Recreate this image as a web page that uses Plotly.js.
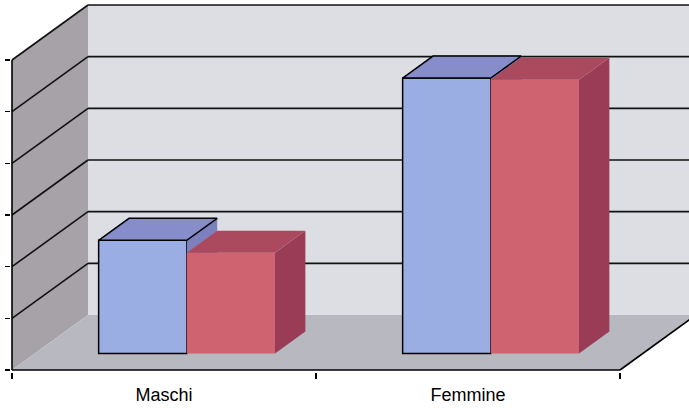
<!DOCTYPE html>
<html>
<head>
<meta charset="utf-8">
<script src="https://cdn.plot.ly/plotly-3.0.1.min.js"></script>
<style>html,body{margin:0;padding:0;background:#fff}#chart{width:689px;height:408px}</style>
</head>
<body>
<div id="chart"></div>
<script>
// ---- data ----
const categories = ['Maschi', 'Femmine'];
const seriesBlue = [2.19, 5.33];
const seriesRed = [1.95, 5.30];
const yTicks = [0, 1, 2, 3, 4, 5, 6];

// ---- pseudo-3D geometry (in axis units) ----
const PX_X = 304, PX_Y = 310 / 6;
const DX = 76 / PX_X, DY = 55 / PX_Y;     // full depth offset of the walls
const D0 = 0.3, DD = 0.4;                  // bar front depth, bar thickness
const W = 0.29;                            // bar width
const yMax = 6;
const xr = [-0.5 - 1 / PX_X, -0.5 - 1 / PX_X + 678 / PX_X];
const yr = [-2 / PX_Y, 367 / PX_Y];

function faces(vals, off, topColor, sideColor, outline, xa, ya) {
  const tr = [];
  vals.forEach((v, i) => {
    const x0 = i + off + D0 * DX, x1 = x0 + W;
    const yb = D0 * DY, yt = yb + v;
    const ddx = DD * DX, ddy = DD * DY;
    tr.push({type: 'scatter', xaxis: xa, yaxis: ya, mode: 'lines', fill: 'toself',
      x: [x1, x1, x1 + ddx, x1 + ddx, x1], y: [yb, yt, yt + ddy, yb + ddy, yb],
      fillcolor: sideColor, line: {width: 0, color: sideColor}, hoverinfo: 'skip', showlegend: false});
    tr.push({type: 'scatter', xaxis: xa, yaxis: ya, mode: 'lines', fill: 'toself',
      x: [x0, x1, x1 + ddx, x0 + ddx, x0], y: [yt, yt, yt + ddy, yt + ddy, yt],
      fillcolor: topColor, line: outline ? {width: 1.5, color: '#000'} : {width: 0, color: topColor},
      hoverinfo: 'skip', showlegend: false});
  });
  return tr;
}

const blueBar = {type: 'bar', x: [0, 1], y: seriesBlue, base: D0 * DY, offset: -W + D0 * DX, width: W,
  marker: {color: '#9aaee3', line: {color: '#000', width: 1.5}}, showlegend: false, xaxis: 'x', yaxis: 'y'};
const redBar = {type: 'bar', x: [0, 1], y: seriesRed, base: D0 * DY, offset: D0 * DX, width: W,
  marker: {color: '#cf6470', line: {width: 0}}, showlegend: false, xaxis: 'x2', yaxis: 'y2'};

const traces = [blueBar].concat(faces(seriesBlue, -W, '#878dcb', '#7c80bd', true, 'x', 'y'))
  .concat(faces(seriesRed, 0, '#ab4a5f', '#9a3c55', false, 'x2', 'y2'))
  .concat([redBar]);

// walls, floor, gridlines
const x0w = -0.5, x1w = 1.5;
const shapes = [];
shapes.push({type: 'path', layer: 'below', xref: 'x', yref: 'y', line: {width: 0},
  fillcolor: '#dddee4',
  path: `M${x0w + DX},${DY} L${x1w + DX + 1},${DY} L${x1w + DX + 1},${yMax + DY} L${x0w + DX},${yMax + DY} Z`});
shapes.push({type: 'path', layer: 'below', xref: 'x', yref: 'y', line: {width: 0},
  fillcolor: '#a6a2a8',
  path: `M${x0w},0 L${x0w + DX},${DY} L${x0w + DX},${yMax + DY} L${x0w},${yMax} Z`});
shapes.push({type: 'path', layer: 'below', xref: 'x', yref: 'y', line: {width: 0},
  fillcolor: '#b8b8c1',
  path: `M${x0w},0 L${x1w},0 L${x1w + DX},${DY} L${x0w + DX},${DY} Z`});
yTicks.forEach(k => {
  if (k === 0) return;
  shapes.push({type: 'line', layer: 'below', xref: 'x', yref: 'y', x0: x0w, y0: k, x1: x0w + DX, y1: k + DY,
    line: {color: '#111', width: 1.6}});
  shapes.push({type: 'line', layer: 'below', xref: 'x', yref: 'y', x0: x0w + DX, y0: k + DY, x1: x1w + DX + 1, y1: k + DY,
    line: {color: '#111', width: 1.6}});
});
// axis lines & floor edge
shapes.push({type: 'line', layer: 'below', xref: 'x', yref: 'y', x0: x0w, y0: 0, x1: x0w, y1: yMax, line: {color: '#000', width: 1.6}});
shapes.push({type: 'line', layer: 'below', xref: 'x', yref: 'y', x0: x0w, y0: 0, x1: x1w, y1: 0, line: {color: '#000', width: 1.6}});
shapes.push({type: 'line', layer: 'below', xref: 'x', yref: 'y', x0: x1w, y0: 0, x1: x1w + DX, y1: DY, line: {color: '#000', width: 1.6}});

const layout = {
  width: 689, height: 408,
  margin: {l: 11, r: 0, t: 3, b: 36},
  paper_bgcolor: '#fff', plot_bgcolor: 'rgba(0,0,0,0)',
  barmode: 'overlay', showlegend: false,
  font: {family: 'Liberation Sans, Arial, sans-serif', color: '#000', size: 18},
  xaxis: {range: xr, showgrid: false, zeroline: false, showline: false,
    tickmode: 'array', tickvals: [0, 1], ticktext: categories, ticks: '',
    minor: {tickmode: 'array', tickvals: [-0.5, 0.5, 1.5], ticks: 'outside', ticklen: 6, tickwidth: 1.5, tickcolor: '#000', showgrid: false},
    tickfont: {size: 18, color: '#000'}, ticklabelstandoff: 10, fixedrange: true},
  yaxis: {range: yr, showgrid: false, zeroline: false, showline: false,
    tickmode: 'array', tickvals: yTicks, ticks: 'outside', ticklen: 5, tickwidth: 1.5, tickcolor: '#000',
    showticklabels: false, fixedrange: true},
  xaxis2: {range: xr, overlaying: 'x', visible: false, fixedrange: true},
  yaxis2: {range: yr, overlaying: 'y', visible: false, fixedrange: true},
  shapes: shapes
};

Plotly.newPlot('chart', traces, layout, {staticPlot: true, displayModeBar: false});
</script>
</body>
</html>
